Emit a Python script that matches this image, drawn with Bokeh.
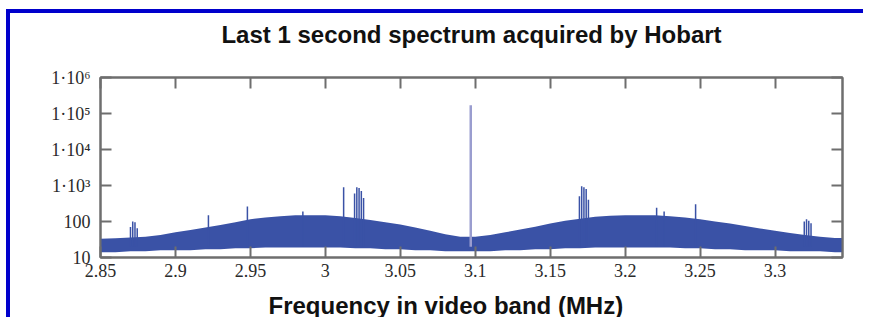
from bokeh.plotting import figure
from bokeh.models import (Range1d, FixedTicker, LinearAxis, LogAxis, Title,
                          CustomJSTickFormatter, ColumnDataSource)
from bokeh.embed import file_html
from bokeh.resources import INLINE

# ---- data ----
freq_mhz = [2.85, 2.86, 2.87, 2.88, 2.89, 2.90, 2.91, 2.92, 2.93, 2.94,
            2.95, 2.96, 2.97, 2.98, 2.99, 3.00, 3.01, 3.02, 3.03, 3.04,
            3.05, 3.06, 3.07, 3.08, 3.09, 3.10, 3.11, 3.12, 3.13, 3.14,
            3.15, 3.16, 3.17, 3.18, 3.19, 3.20, 3.21, 3.22, 3.23, 3.24,
            3.25, 3.26, 3.27, 3.28, 3.29, 3.30, 3.31, 3.32, 3.33, 3.34, 3.345]
band_upper = [33, 34, 36, 38, 42, 50, 58, 68, 80, 95,
              115, 130, 140, 150, 150, 150, 140, 125, 110, 95,
              82, 68, 55, 44, 38, 38, 42, 50, 60, 72,
              88, 105, 120, 135, 145, 150, 150, 148, 140, 130,
              115, 100, 88, 75, 64, 55, 48, 42, 38, 35, 35]
band_lower = [14, 14, 15, 15, 16, 16, 16, 17, 17, 18,
              18, 19, 19, 19, 19, 19, 19, 18, 18, 17,
              17, 16, 16, 15, 15, 15, 15, 16, 16, 17,
              17, 18, 18, 19, 19, 19, 19, 19, 19, 18,
              18, 17, 17, 16, 16, 16, 15, 15, 15, 14, 14]

spike_freq = [2.870, 2.8715, 2.873, 2.8745, 2.922, 2.948, 2.985,
              3.0122, 3.0195, 3.021, 3.0225, 3.024, 3.0255,
              3.097,
              3.1695, 3.171, 3.1725, 3.174, 3.1755,
              3.221, 3.226, 3.247,
              3.3195, 3.321, 3.3225, 3.324]
spike_top = [70, 100, 95, 65, 150, 260, 190,
             900, 600, 900, 850, 700, 450,
             2000,
             500, 950, 900, 800, 400,
             240, 190, 300,
             100, 115, 105, 90]
spike_base = 20

carrier_freq = [3.097]
carrier_top = [1.7e5]

x_ticks = [2.85, 2.9, 2.95, 3.0, 3.05, 3.1, 3.15, 3.2, 3.25, 3.3]
x_tick_labels = ["2.85", "2.9", "2.95", "3", "3.05", "3.1", "3.15", "3.2", "3.25", "3.3"]
y_ticks = [10, 100, 1e3, 1e4, 1e5, 1e6]
y_tick_labels = ["10", "100", "1\u00b710\u00b3", "1\u00b710\u2074", "1\u00b710\u2075", "1\u00b710\u2076"]

title_text = "Last 1 second spectrum acquired by Hobart"
xlabel_text = "Frequency in video band (MHz)"

# ---- figure ----
BLUE = "#3a52a6"
GRAY = "#6e6e6e"

p = figure(width=857, height=308, output_backend="svg", toolbar_location=None,
           x_range=Range1d(2.85, 3.345), y_range=Range1d(10, 1e6),
           y_axis_type="log", min_border_left=90, min_border_right=25,
           min_border_top=63, min_border_bottom=64)
p.styles = {"border-left": "4px solid #0000cc", "border-top": "4px solid #0000cc",
            "margin-left": "6px", "margin-top": "9px"}
p.grid.visible = False
p.outline_line_color = GRAY
p.outline_line_width = 2
p.background_fill_color = "white"
p.border_fill_color = "white"

src = ColumnDataSource(dict(x=freq_mhz, lo=band_lower, hi=band_upper))
p.varea(x="x", y1="lo", y2="hi", source=src, fill_color=BLUE)
p.segment(x0=spike_freq, y0=[spike_base] * len(spike_freq), x1=spike_freq, y1=spike_top,
          line_color=BLUE, line_width=1.5)
p.segment(x0=carrier_freq, y0=[spike_base], x1=carrier_freq, y1=carrier_top,
          line_color="#9a9dcf", line_width=2.5)

x_fmt = CustomJSTickFormatter(args=dict(tv=x_ticks, tl=x_tick_labels), code="""
for (let i = 0; i < tv.length; i++) { if (Math.abs(tick - tv[i]) < 1e-6) return tl[i]; }
return "";
""")
y_fmt = CustomJSTickFormatter(args=dict(tv=y_ticks, tl=y_tick_labels), code="""
for (let i = 0; i < tv.length; i++) { if (Math.abs(Math.log10(tick) - Math.log10(tv[i])) < 1e-3) return tl[i]; }
return "";
""")
blank_fmt = CustomJSTickFormatter(code="return '';")

def style_axis(ax, size="18px"):
    ax.axis_line_color = GRAY
    ax.axis_line_width = 2
    ax.major_tick_line_color = GRAY
    ax.major_tick_line_width = 2
    ax.major_tick_in = 11
    ax.major_tick_out = 0
    ax.minor_tick_line_color = None
    ax.major_label_text_font = "Liberation Serif"
    ax.major_label_text_font_size = size
    ax.major_label_text_color = "#2a2a2a"

def spacer_axis(gap):
    ax = LinearAxis(ticker=FixedTicker(ticks=x_ticks), formatter=blank_fmt)
    style_axis(ax, "1px")
    ax.axis_line_color = None
    ax.major_tick_line_color = None
    ax.major_tick_in = 0
    ax.major_tick_out = gap
    ax.major_label_standoff = 0
    return ax

xa = p.xaxis[0]
xa.ticker = FixedTicker(ticks=x_ticks)
xa.formatter = x_fmt
style_axis(xa)
xa.major_label_standoff = 6

ya = p.yaxis[0]
ya.ticker = FixedTicker(ticks=y_ticks)
ya.formatter = y_fmt
style_axis(ya)
ya.major_label_standoff = 10

# mirrored ticks on top and right (blank labels)
top = LinearAxis(ticker=FixedTicker(ticks=x_ticks), formatter=blank_fmt)
style_axis(top, "1px")
top.major_label_standoff = 0
p.add_layout(top, "above")
p.add_layout(spacer_axis(25), "above")
right = LogAxis(ticker=FixedTicker(ticks=y_ticks), formatter=blank_fmt)
style_axis(right, "1px")
right.major_label_standoff = 0
p.add_layout(right, "right")

# invisible spacer below the x axis
p.add_layout(spacer_axis(10), "below")

p.title.text = title_text
p.title.align = "center"
p.title.text_font = "Liberation Sans"
p.title.text_font_style = "bold"
p.title.text_font_size = "24px"
p.title.text_color = "#111111"
p.title.standoff = 10

xt = Title(text=xlabel_text, align="left", offset=168, text_font="Liberation Sans",
           text_font_style="bold", text_font_size="24px", text_color="#111111", standoff=0)
p.add_layout(xt, "below")

open("out.html", "w").write(file_html(p, INLINE))
